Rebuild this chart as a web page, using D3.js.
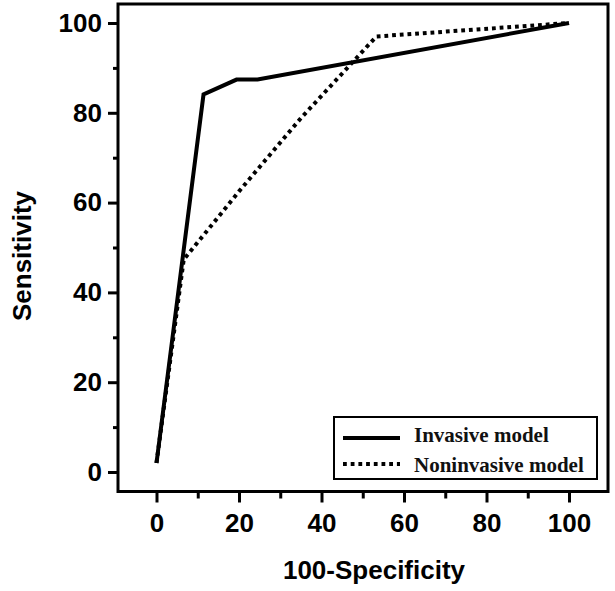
<!DOCTYPE html>
<html>
<head>
<meta charset="utf-8">
<script src="https://cdn.jsdelivr.net/npm/d3@7"></script>
<style>
  html, body { margin: 0; padding: 0; background: #fff; }
  svg { display: block; }
</style>
</head>
<body>
<svg id="chart" width="615" height="591"></svg>
<script>
// ---- data ----
const seriesNames = ["Invasive model", "Noninvasive model"];
const invasiveX = [0, 11.4, 19.4, 24.5, 100];
const invasiveY = [2, 84.1, 87.4, 87.4, 100];
const noninvasiveX = [0, 6.6, 20, 35, 53.3, 100];
const noninvasiveY = [2, 47.3, 62.5, 78.8, 97, 100];
const xMajorTicks = [0, 20, 40, 60, 80, 100];
const xMinorTicks = [10, 30, 50, 70, 90];
const yMajorTicks = [0, 20, 40, 60, 80, 100];
const yMinorTicks = [10, 30, 50, 70, 90];
const xTitle = "100-Specificity";
const yTitle = "Sensitivity";

// ---- layout ----
const svg = d3.select("#chart");
const frame = { left: 118, right: 608, top: 4, bottom: 491.5 };
const x = d3.scaleLinear().domain([0, 100]).range([156.5, 569]);
const y = d3.scaleLinear().domain([0, 100]).range([472, 23]);

const sans = "'Liberation Sans', Arial, sans-serif";
const serif = "'Liberation Serif', 'Times New Roman', serif";

// frame
svg.append("rect")
  .attr("x", frame.left).attr("y", frame.top)
  .attr("width", frame.right - frame.left)
  .attr("height", frame.bottom - frame.top)
  .attr("fill", "none").attr("stroke", "#000").attr("stroke-width", 3);

function styleAxis(g) {
  g.select(".domain").remove();
  g.selectAll(".tick line").attr("stroke", "#000").attr("stroke-width", 3);
  g.selectAll(".tick text")
    .attr("fill", "#000")
    .style("font-family", sans)
    .style("font-weight", "bold")
    .style("font-size", "26px");
}

// x axis
svg.append("g").attr("transform", `translate(0,${frame.bottom})`)
  .call(d3.axisBottom(x).tickValues(xMajorTicks).tickSize(11).tickPadding(11).tickFormat(d3.format("d")))
  .call(styleAxis);
svg.append("g").attr("transform", `translate(0,${frame.bottom})`)
  .call(d3.axisBottom(x).tickValues(xMinorTicks).tickSize(7).tickFormat(""))
  .call(styleAxis);

// y axis
svg.append("g").attr("transform", `translate(${frame.left},0)`)
  .call(d3.axisLeft(y).tickValues(yMajorTicks).tickSize(10).tickPadding(6).tickFormat(d3.format("d")))
  .call(styleAxis);
svg.append("g").attr("transform", `translate(${frame.left},0)`)
  .call(d3.axisLeft(y).tickValues(yMinorTicks).tickSize(5).tickFormat(""))
  .call(styleAxis);

// titles
svg.append("text")
  .attr("x", 374).attr("y", 579)
  .attr("text-anchor", "middle")
  .style("font-family", sans).style("font-weight", "bold").style("font-size", "26px")
  .text(xTitle);
svg.append("text")
  .attr("transform", "translate(31,256) rotate(-90)")
  .attr("text-anchor", "middle")
  .style("font-family", sans).style("font-weight", "bold").style("font-size", "26px")
  .text(yTitle);

// lines
const line = d3.line().x(d => x(d[0])).y(d => y(d[1]));
const invasive = invasiveX.map((v, i) => [v, invasiveY[i]]);
const noninvasive = noninvasiveX.map((v, i) => [v, noninvasiveY[i]]);

svg.append("path").datum(noninvasive)
  .attr("d", line)
  .attr("fill", "none").attr("stroke", "#000")
  .attr("stroke-width", 4).attr("stroke-dasharray", "3.8 3.9");
svg.append("path").datum(invasive)
  .attr("d", line)
  .attr("fill", "none").attr("stroke", "#000")
  .attr("stroke-width", 4).attr("stroke-linejoin", "miter");

// legend
const lg = svg.append("g");
lg.append("rect")
  .attr("x", 334).attr("y", 417).attr("width", 263).attr("height", 62)
  .attr("fill", "#fff").attr("stroke", "#000").attr("stroke-width", 2);
const legendRows = [
  { name: seriesNames[0], dash: null, ly: 438, ty: 442 },
  { name: seriesNames[1], dash: "3.8 3.9", ly: 464, ty: 471.5 }
];
legendRows.forEach(r => {
  lg.append("line")
    .attr("x1", 343).attr("x2", 400).attr("y1", r.ly).attr("y2", r.ly)
    .attr("stroke", "#000").attr("stroke-width", 4)
    .attr("stroke-dasharray", r.dash);
  lg.append("text")
    .attr("x", 414).attr("y", r.ty)
    .style("font-family", serif).style("font-weight", "bold").style("font-size", "21px")
    .attr("fill", "#111")
    .text(r.name);
});
</script>
</body>
</html>
